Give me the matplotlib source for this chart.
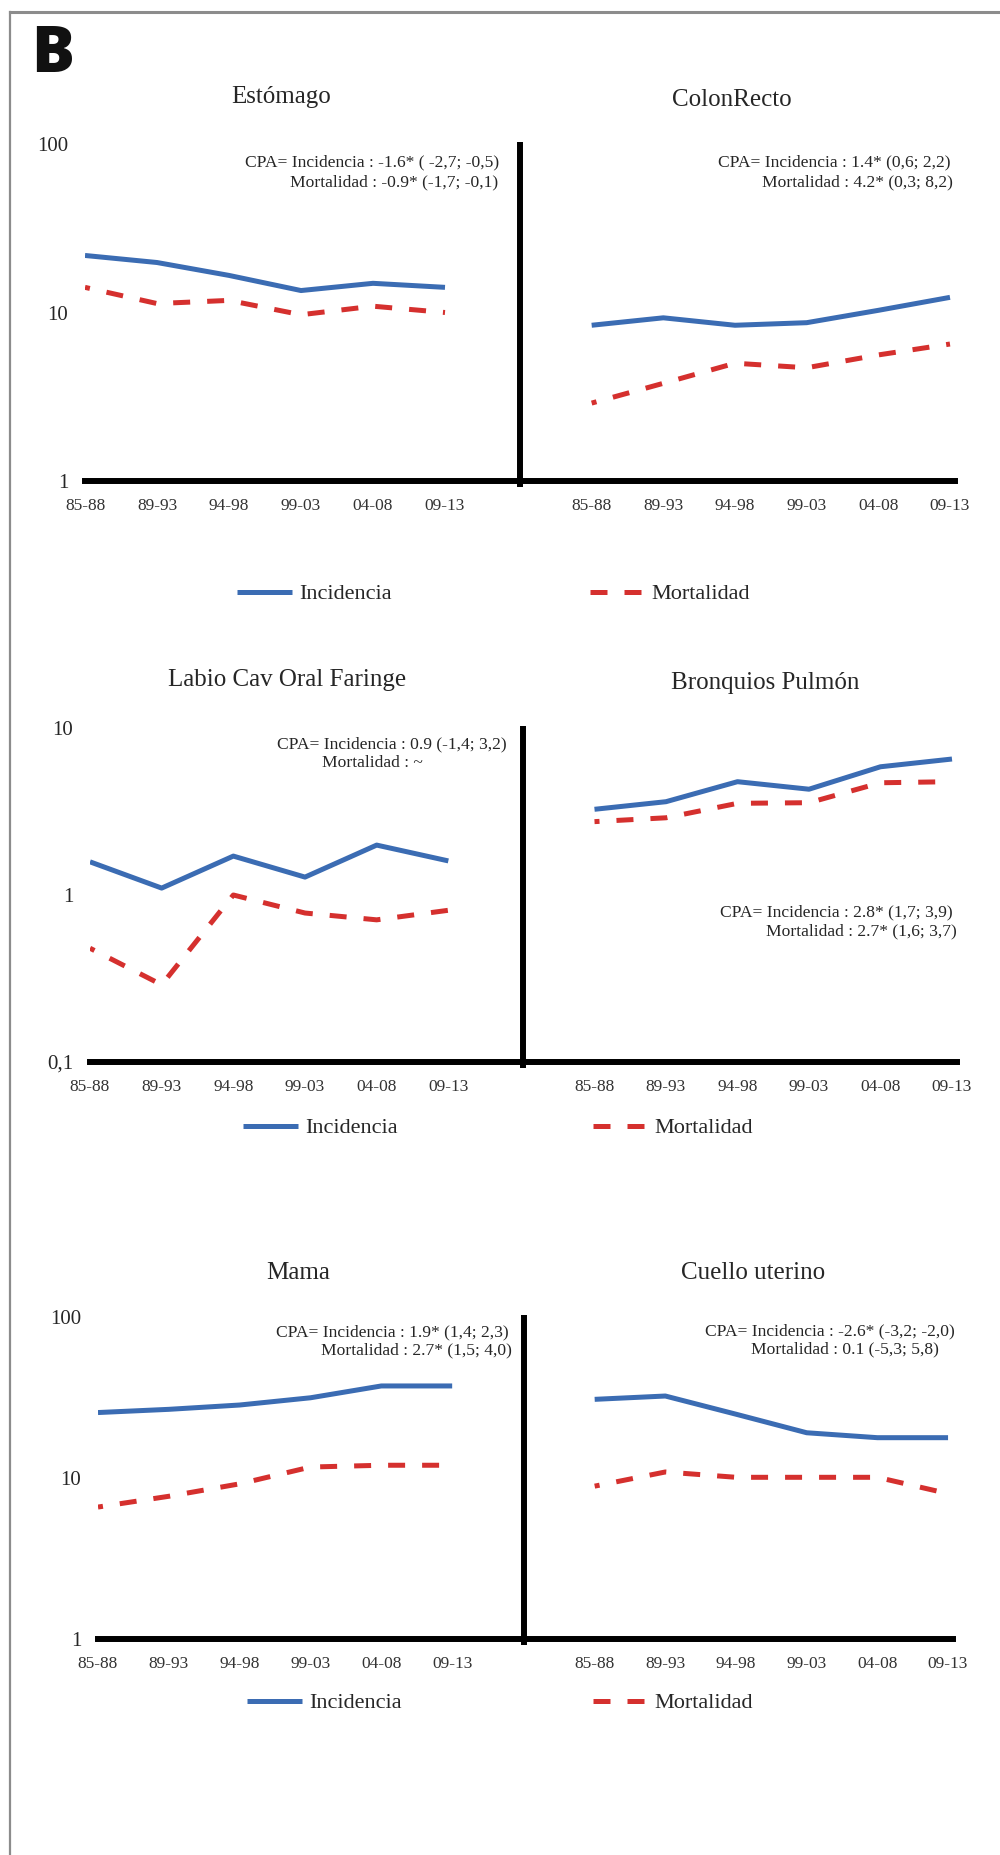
import numpy as np
import matplotlib.pyplot as plt
from matplotlib.lines import Line2D
from matplotlib.ticker import NullLocator

plt.rcParams['font.family'] = ['Liberation Serif', 'DejaVu Serif']

###
# DATOS (tasas, escala logaritmica)
###
periodos = ["85-88", "89-93", "94-98", "99-03", "04-08", "09-13"]

estomago_inc = [21.8, 19.8, 16.6, 13.5, 14.9, 14.1]
estomago_mort = [14.1, 11.3, 11.8, 9.7, 10.9, 10.0]
colon_inc = [8.4, 9.3, 8.4, 8.7, 10.3, 12.3]
colon_mort = [2.9, 3.8, 5.0, 4.7, 5.6, 6.5]
labio_inc = [1.58, 1.10, 1.71, 1.28, 1.99, 1.60]
labio_mort = [0.48, 0.29, 1.0, 0.78, 0.71, 0.81]
pulmon_inc = [3.26, 3.62, 4.77, 4.30, 5.86, 6.52]
pulmon_mort = [2.75, 2.90, 3.54, 3.57, 4.70, 4.77]
mama_inc = [25.5, 26.7, 28.4, 31.5, 37.3, 37.3]
mama_mort = [6.6, 7.7, 9.2, 11.7, 12.0, 12.0]
cuello_inc = [30.8, 32.3, 24.9, 19.1, 17.8, 17.8]
cuello_mort = [8.9, 10.9, 10.1, 10.1, 10.1, 8.0]

titulos = [["Estómago", "ColonRecto"],
           ["Labio Cav Oral Faringe", "Bronquios Pulmón"],
           ["Mama", "Cuello uterino"]]
series = [[(estomago_inc, estomago_mort), (colon_inc, colon_mort)],
          [(labio_inc, labio_mort), (pulmon_inc, pulmon_mort)],
          [(mama_inc, mama_mort), (cuello_inc, cuello_mort)]]
cpa = [[("CPA= Incidencia : -1.6* ( -2,7; -0,5)", "Mortalidad : -0.9* (-1,7; -0,1)"),
        ("CPA= Incidencia : 1.4* (0,6; 2,2)", "Mortalidad : 4.2* (0,3; 8,2)")],
       [("CPA= Incidencia : 0.9 (-1,4; 3,2)", "Mortalidad : ~"),
        ("CPA= Incidencia : 2.8* (1,7; 3,9)", "Mortalidad : 2.7* (1,6; 3,7)")],
       [("CPA= Incidencia : 1.9* (1,4; 2,3)", "Mortalidad : 2.7* (1,5; 4,0)"),
        ("CPA= Incidencia : -2.6* (-3,2; -2,0)", "Mortalidad : 0.1 (-5,3; 5,8)")]]
yticks = [[1, 10, 100], [0.1, 1, 10], [1, 10, 100]]
yticklabels = [["1", "10", "100"], ["0,1", "1", "10"], ["1", "10", "100"]]

###
# LAYOUT (pixeles)
###
W, H = 1000, 1855
azul = '#3b6cb3'
rojo = '#d5302e'
txt = '#262626'
lw = 3.6
dash = (3.4, 3.4)

# x0 izq, x6 izq, x0 der, xfin der, y sup, y inf
filas = [(85, 517, 520, 955, 144, 481),
         (90, 520, 523, 957, 728, 1062),
         (98, 523, 524, 953, 1317, 1639)]
pos_titulos = [[(281, 97), (732, 100)], [(287, 680), (765, 683)], [(298, 1273), (753, 1273)]]
# borde derecho de cada linea de CPA y su altura
pos_cpa = [[((499, 162), (498, 182)), ((950, 162), (953, 182))],
           [((507, 744), (423, 763)), ((953, 912), (957, 931))],
           [((509, 1332), (512, 1350)), ((955, 1331), (939, 1349))]]
pos_leyenda = [((237, 594), (590, 594)), ((243, 1128), (593, 1128)), ((247, 1703), (593, 1703))]


def fx(x):
    return x / W


def fy(y):
    return 1 - y / H


def box(x0, x1, ytop, ybot):
    return [fx(x0), fy(ybot), (x1 - x0) / W, (ybot - ytop) / H]


fig = plt.figure(figsize=(W / 100, H / 100), dpi=100)

# marco gris (arriba e izquierda)
fig.add_artist(Line2D([fx(10), 1], [fy(11.5), fy(11.5)], color='#8c8c8c', lw=2.2))
fig.add_artist(Line2D([fx(10), fx(10)], [fy(11.5), 0], color='#8c8c8c', lw=1.6))
fig.text(fx(31), fy(55), "B", fontsize=46, fontweight='heavy', family=['Open Sans', 'DejaVu Sans'],
         ha='left', va='center', color='#111111')

for r, (xl0, xl6, xr0, xr1, ytop, ybot) in enumerate(filas):
    ax_l = fig.add_axes(box(xl0, xl6, ytop, ybot))
    ax_r = fig.add_axes(box(xr0, xr1, ytop, ybot))
    for k, ax in enumerate([ax_l, ax_r]):
        inc, mort = series[r][k]
        x = np.arange(6) + k
        ax.plot(x, inc, color=azul, lw=lw, solid_capstyle='butt', solid_joinstyle='round')
        ax.plot(x, mort, color=rojo, lw=lw, ls=(2.4, dash), dash_capstyle='butt')
        ax.set_yscale('log')
        ax.set_ylim(yticks[r][0], yticks[r][-1])
        ax.set_xlim(0, 6 if k == 0 else 6.07)
        ax.yaxis.set_minor_locator(NullLocator())
        for s in ['top', 'right', 'left']:
            ax.spines[s].set_visible(False)
        ax.spines['bottom'].set_linewidth(4.3)
        ax.spines['bottom'].set_color('black')
        ax.set_xticks(x, periodos)
        ax.tick_params(axis='x', length=0, pad=12, labelsize=12.5, labelcolor='#333333')
        ax.patch.set_visible(False)
        if k == 0:
            ax.set_yticks(yticks[r], yticklabels[r])
            ax.tick_params(axis='y', length=0, pad=12, labelsize=15, labelcolor=txt)
        else:
            ax.set_yticks([])
            ax.axvline(0, ymin=-0.018, ymax=1.005, color='black', lw=4.3, clip_on=False,
                       solid_capstyle='butt')

        tx, ty = pos_titulos[r][k]
        fig.text(fx(tx), fy(ty), titulos[r][k], fontsize=18, ha='center', va='center', color=txt)
        for linea, (cx, cy) in zip(cpa[r][k], pos_cpa[r][k]):
            fig.text(fx(cx), fy(cy), linea, fontsize=12.6, ha='right', va='center', color=txt)

    (ix, iy), (mx, my) = pos_leyenda[r]
    h_inc = Line2D([], [], color=azul, lw=lw, solid_capstyle='butt')
    h_mort = Line2D([], [], color=rojo, lw=lw, ls=(0, dash), dash_capstyle='butt')
    for h, lab, (lx, ly) in [(h_inc, "Incidencia", (ix, iy)), (h_mort, "Mortalidad", (mx, my))]:
        fig.legend(handles=[h], labels=[lab], loc='center left', bbox_to_anchor=(fx(lx), fy(ly)),
                   frameon=False, fontsize=16, handlelength=2.48, handletextpad=0.3,
                   borderpad=0, borderaxespad=0, labelcolor=txt)

fig.savefig("out.png", dpi=100, facecolor='white')
